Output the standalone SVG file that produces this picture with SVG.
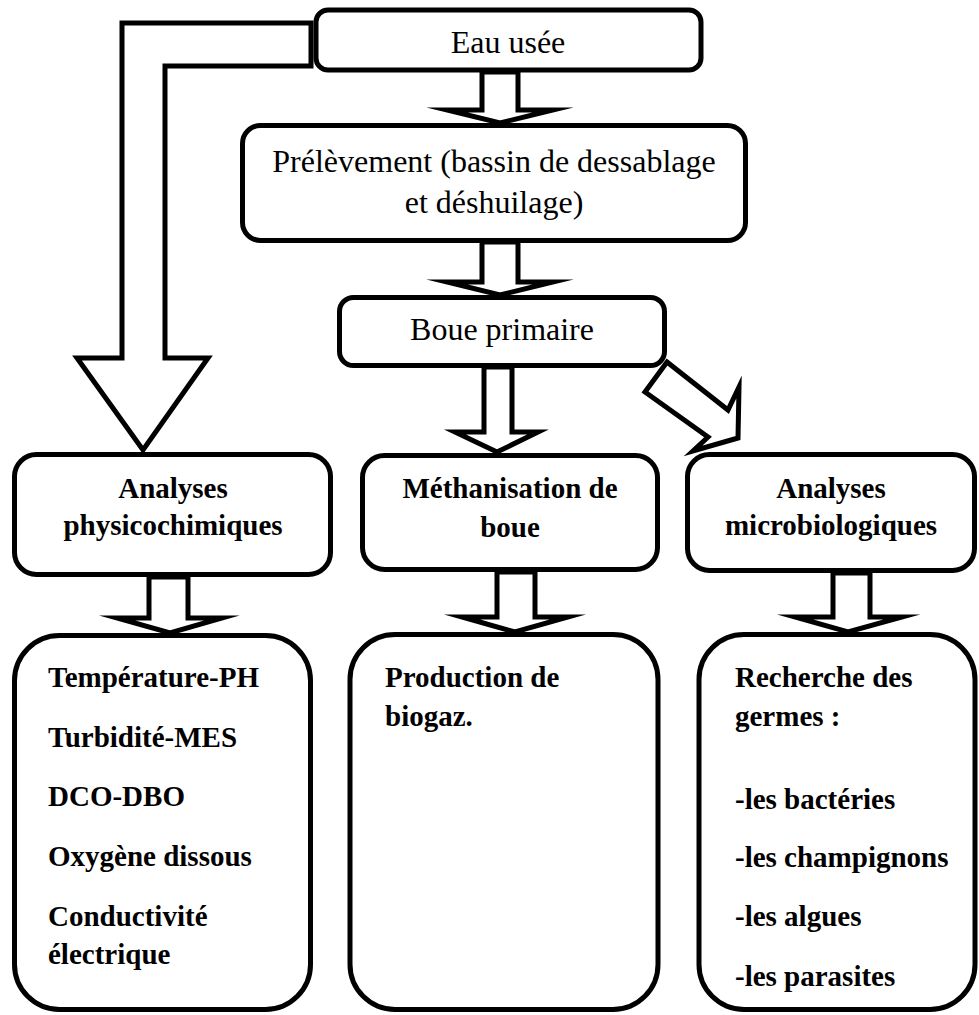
<svg xmlns="http://www.w3.org/2000/svg" width="979" height="1015" viewBox="0 0 979 1015">
<style>
.box{fill:#fff;stroke:#000;stroke-width:5}
.arr{fill:#fff;stroke:#000;stroke-width:5;stroke-linejoin:miter;stroke-miterlimit:10}
.r{font-family:"Liberation Serif","Times New Roman",serif;font-size:32px;fill:#000}
.b{font-family:"Liberation Serif","Times New Roman",serif;font-size:29px;font-weight:bold;fill:#000}
.c{text-anchor:middle}
</style>
<rect width="979" height="1015" fill="#fff"/>
<g id="connectors">
<polygon class="arr" points="311,23 122,23 122,358 77,358 143,450 208,358 165,358 165,66 311,66"/>
<polygon class="arr" points="482,72 482,110 447,110 500,123 553,110 518,110 518,72"/>
<polygon class="arr" points="482,242 482,282 447,282 500,295 553,282 518,282 518,242"/>
<polygon class="arr" points="484,367 484,432 455,432 497,452 538,432 512,432 512,367"/>
<polygon class="arr" points="667,362 728,410 739,387 738,438 693,451 708,437 645,392"/>
<polygon class="arr" points="149,577 149,618 117,618 170,633 222,618 188,618 188,577"/>
<polygon class="arr" points="497,572 497,617 462,617 515,632 568,617 535,617 535,572"/>
<polygon class="arr" points="833,573 833,617 795,617 848,632 902,617 870,617 870,573"/>
</g>
<g id="eau">
<rect class="box" x="316" y="10" width="385" height="60" rx="12"/>
<text class="r c" x="508" y="53">Eau usée</text>
</g>
<g id="prelevement">
<rect class="box" x="242.5" y="125.5" width="503" height="115" rx="18"/>
<text class="r c" x="494" y="172">Prélèvement (bassin de dessablage</text>
<text class="r c" x="494" y="213">et déshuilage)</text>
</g>
<g id="boue">
<rect class="box" x="339.5" y="297.5" width="325" height="68" rx="14"/>
<text class="r c" x="502" y="340">Boue primaire</text>
</g>
<g id="physico">
<rect class="box" x="14.5" y="454.5" width="316" height="120" rx="22"/>
<text class="b c" x="173" y="498">Analyses</text>
<text class="b c" x="173" y="535">physicochimiques</text>
</g>
<g id="methanisation">
<rect class="box" x="362.5" y="455.5" width="295" height="114" rx="22"/>
<text class="b c" x="510" y="498">Méthanisation de</text>
<text class="b c" x="510" y="537">boue</text>
</g>
<g id="micro">
<rect class="box" x="687.5" y="454.5" width="287" height="116" rx="22"/>
<text class="b c" x="831" y="498">Analyses</text>
<text class="b c" x="831" y="535">microbiologiques</text>
</g>
<g id="physico-list">
<rect class="box" x="14.5" y="635.5" width="296" height="374" rx="45"/>
<text class="b" x="48" y="687">Température-PH</text>
<text class="b" x="48" y="747">Turbidité-MES</text>
<text class="b" x="48" y="806">DCO-DBO</text>
<text class="b" x="48" y="866">Oxygène dissous</text>
<text class="b" x="48" y="926">Conductivité</text>
<text class="b" x="48" y="964">électrique</text>
</g>
<g id="biogaz">
<rect class="box" x="350" y="634.5" width="308" height="375" rx="45"/>
<text class="b" x="385" y="687">Production de</text>
<text class="b" x="385" y="726">biogaz.</text>
</g>
<g id="micro-list">
<rect class="box" x="699" y="634.5" width="276" height="375" rx="45"/>
<text class="b" x="735" y="687">Recherche des</text>
<text class="b" x="735" y="726">germes :</text>
<text class="b" x="735" y="809">-les bactéries</text>
<text class="b" x="735" y="867">-les champignons</text>
<text class="b" x="735" y="926">-les algues</text>
<text class="b" x="735" y="986">-les parasites</text>
</g>
</svg>
